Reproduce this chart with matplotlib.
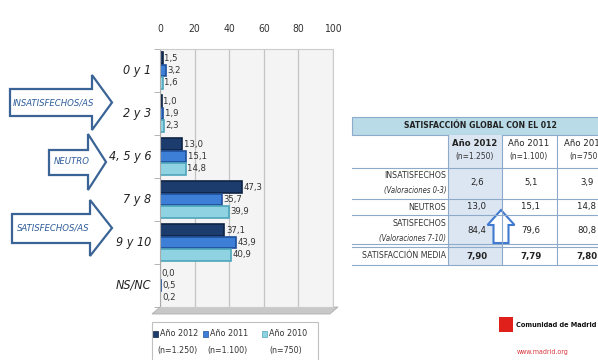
import matplotlib.pyplot as plt
from matplotlib.patches import Polygon, Rectangle
import numpy as np

plt.rcParams['font.family'] = ['DejaVu Sans']
plt.rcParams['font.stretch'] = 'condensed'

# Valoraciones agrupadas y porcentaje por año
categorias = ["0 y 1", "2 y 3", "4, 5 y 6", "7 y 8", "9 y 10", "NS/NC"]
anio_2012 = [1.5, 1.0, 13.0, 47.3, 37.1, 0.0]
anio_2011 = [3.2, 1.9, 15.1, 35.7, 43.9, 0.5]
anio_2010 = [1.6, 2.3, 14.8, 39.9, 40.9, 0.2]
series = ["Año 2012", "Año 2011", "Año 2010"]
muestras = ["(n=1.250)", "(n=1.100)", "(n=750)"]

# Tabla resumen
filas_tabla = ["INSATISFECHOS", "NEUTROS", "SATISFECHOS", "SATISFACCIÓN MEDIA"]
subfilas = ["(Valoraciones 0-3)", "", "(Valoraciones 7-10)", ""]
tabla_2012 = ["2,6", "13,0", "84,4", "7,90"]
tabla_2011 = ["5,1", "15,1", "79,6", "7,79"]
tabla_2010 = ["3,9", "14,8", "80,8", "7,80"]

colores = ["#1c3c6e", "#3d7fd6", "#8fd3e2"]
bordes = ["#0e2243", "#1f4f99", "#4ea5bb"]

W, H = 598, 360
fig = plt.figure(figsize=(W / 100, H / 100), dpi=100)
fig.patch.set_facecolor("white")

bg = fig.add_axes([0, 0, 1, 1])
bg.set_xlim(0, W)
bg.set_ylim(H, 0)
bg.axis("off")

top, bottom, left, right = 49, 307, 160, 333
ax = fig.add_axes([left / W, 1 - bottom / H, (right - left) / W, (bottom - top) / H])
ax.set_facecolor("#f4f4f4")
ax.set_xlim(0, 100)
ax.set_ylim(5.5, -0.5)
ax.xaxis.tick_top()
ax.set_xticks([0, 20, 40, 60, 80, 100])
ax.tick_params(axis="x", length=0, pad=11, labelsize=7.5, colors="#333333")
ax.set_yticks([])
ax.set_yticks(np.arange(-0.5, 6, 1), minor=True)
ax.tick_params(axis="y", which="minor", length=4, color="#aaaaaa")
ax.grid(axis="x", color="#c4c4c4", lw=0.9)
ax.set_axisbelow(True)
for s in ["top", "right", "bottom"]:
    ax.spines[s].set_color("#cccccc")
ax.spines["left"].set_color("#aaaaaa")

y = np.arange(len(categorias))
h = 0.27
for k, vals in enumerate([anio_2012, anio_2011, anio_2010]):
    pos = y + (k - 1) * 0.29
    ax.barh(pos, vals, height=h, color=colores[k], edgecolor=bordes[k], lw=1.2)
    for p, v in zip(pos, vals):
        ax.text(v + 1.0, p, f"{v:.1f}".replace(".", ","), va="center", ha="left",
                fontsize=6.8, color="#333333")

for i, c in enumerate(categorias):
    ax.text(-5, i, c, ha="right", va="center", fontsize=9, style="italic",
            color="#222222", clip_on=False)

# suelo del gráfico 3D
bg.add_patch(Polygon([(left, bottom), (right + 5, bottom), (right - 3, bottom + 7),
                      (left - 8, bottom + 7)], closed=True, fc="#c8c8c8", ec="#b0b0b0", lw=0.6))


def flecha_derecha(x0, xb, xt, yb0, yb1, yh0, yh1, texto, tx):
    ym = (yh0 + yh1) / 2
    pts = [(x0, yb0), (xb, yb0), (xb, yh0), (xt, ym), (xb, yh1), (xb, yb1), (x0, yb1)]
    bg.add_patch(Polygon(pts, closed=True, fc="white", ec="#3b6496", lw=1.6))
    bg.text(tx, ym, texto, ha="center", va="center", fontsize=6.8, style="italic",
            color="#2e5c9a")


flecha_derecha(10, 92, 112, 89, 116, 75, 130, "INSATISFECHOS/AS", 53)
flecha_derecha(49, 88, 106, 150, 175, 134, 190, "NEUTRO", 72)
flecha_derecha(12, 90, 112, 214, 243, 200, 256, "SATISFECHOS/AS", 53)


def flecha_vertical(xc, ancho_cuerpo, ancho_cabeza, y_punta, y_base, y_fin, fc, ec, lw):
    a, b = ancho_cuerpo / 2, ancho_cabeza / 2
    pts = [(xc, y_punta), (xc + b, y_base), (xc + a, y_base), (xc + a, y_fin),
           (xc - a, y_fin), (xc - a, y_base), (xc - b, y_base)]
    bg.add_patch(Polygon(pts, closed=True, fc=fc, ec=ec, lw=lw))


flecha_vertical(281, 12, 28, 182, 197, 207, "#9fbbe0", "#5b86c2", 1.2)
flecha_vertical(269, 13, 27, 256, 240, 228, "#9fbbe0", "#5b86c2", 1.2)

# leyenda
bg.add_patch(Rectangle((152, 322), 166, 45, fc="white", ec="#c0c0c0", lw=0.8))
leg_x = [156, 206, 265]
for k in range(3):
    bg.add_patch(Rectangle((leg_x[k] - 3, 331), 5, 6, fc=colores[k], ec=bordes[k], lw=0.5))
    bg.text(leg_x[k] + 4, 334, series[k], ha="left", va="center", fontsize=6.4, color="#333333")
    bg.text(leg_x[k] + 21, 351, muestras[k], ha="center", va="center", fontsize=6.3, color="#333333")

# tabla de satisfacción global
lc = "#8eaacb"
bg.add_patch(Rectangle((352, 117), 260, 18, fc="#b9dbe8", ec=lc, lw=0.8))
bg.text(480, 126, "SATISFACCIÓN GLOBAL CON EL 012", ha="center", va="center",
        fontsize=6.2, fontweight="bold", color="#222222")
bg.add_patch(Rectangle((448, 135), 54, 130, fc="#dce6f2", ec="none"))
for yy in [168, 199, 215, 244, 247, 265]:
    bg.plot([352, 598], [yy, yy], color=lc, lw=0.8)
for xx in [448, 502, 557]:
    bg.plot([xx, xx], [135, 265], color=lc, lw=0.8)

col_x = [475, 529, 585]
for k in range(3):
    bg.text(col_x[k], 143, series[k], ha="center", va="center", fontsize=6.8,
            fontweight="bold" if k == 0 else "normal", color="#222222")
    bg.text(col_x[k], 157, muestras[k], ha="center", va="center", fontsize=6, color="#333333")

fila_y = [183, 207, 231, 256]
for i, nombre in enumerate(filas_tabla):
    if subfilas[i]:
        bg.text(446, fila_y[i] - 7, nombre, ha="right", va="center", fontsize=6.3, color="#333333")
        bg.text(446, fila_y[i] + 7, subfilas[i], ha="right", va="center", fontsize=5.5,
                style="italic", color="#333333")
    else:
        bg.text(446, fila_y[i], nombre, ha="right", va="center", fontsize=6.3, color="#333333")
    negrita = "bold" if i == 3 else "normal"
    for k, col in enumerate([tabla_2012, tabla_2011, tabla_2010]):
        bg.text(col_x[k] + 2, fila_y[i], col[i], ha="center", va="center",
                fontsize=6.8, fontweight=negrita, color="#222222")

flecha_vertical(501, 15, 27, 210, 225, 243, "white", "#3f7ad0", 1.5)

# logotipo
bg.add_patch(Rectangle((499, 317), 14, 15, fc="#e0201b", ec="none"))
bg.text(516, 325, "Comunidad de Madrid", ha="left", va="center", fontsize=5.2,
        fontweight="bold", color="#111111")
bg.text(543, 352, "www.madrid.org", ha="center", va="center", fontsize=5, color="#d9363e")

fig.savefig("out.png", dpi=100)
